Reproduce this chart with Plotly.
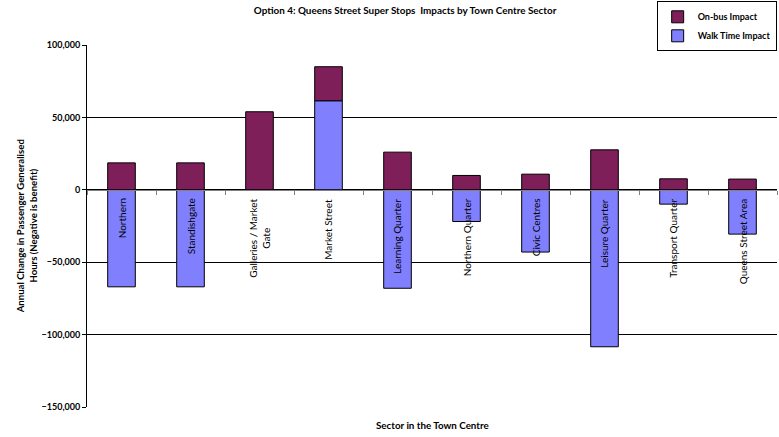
import plotly.graph_objects as go

categories = ["Northern", "Standishgate", "Galleries / Market<br>Gate", "Market Street",
              "Learning Quarter", "Northern Quarter", "Civic Centres", "Leisure Quarter",
              "Transport Quarter", "Queens Street Area"]
on_bus = [18600, 18600, 53900, 23500, 26000, 9900, 10800, 27600, 7600, 7400]
walk_time = [-67000, -67000, 0, 61500, -68000, -21900, -43000, -108400, -9900, -30600]
y_ticks = [100000, 50000, 0, -50000, -100000, -150000]

FONT = "Lato, 'Open Sans', sans-serif"
ON_BUS_COLOR = "#7F1F5A"
WALK_COLOR = "#8080FF"

fig = go.Figure()
fig.add_trace(go.Bar(x=categories, y=walk_time, name="<b>Walk Time Impact</b>",
                     marker=dict(color=WALK_COLOR, line=dict(color="#000000", width=1)),
                     width=0.4, legendrank=2))
fig.add_trace(go.Bar(x=categories, y=on_bus, name="<b>On-bus Impact</b>",
                     marker=dict(color=ON_BUS_COLOR, line=dict(color="#000000", width=1)),
                     width=0.4, legendrank=1))

for c in categories:
    fig.add_annotation(x=c, y=0, xref="x", yref="y", text=c, showarrow=False,
                       textangle=-90, xanchor="center", yanchor="top", yshift=-7,
                       font=dict(family=FONT, size=10, color="#000000"))

fig.update_layout(
    width=779, height=437,
    margin=dict(l=87, r=2, t=45, b=30, autoexpand=False),
    paper_bgcolor="white", plot_bgcolor="white",
    barmode="relative",
    font=dict(family=FONT, size=9, color="#000000"),
    title=dict(text="<b>Option 4: Queens Street Super Stops  Impacts by Town Centre Sector</b>",
               x=0.52, xanchor="center", y=0.977, yanchor="middle",
               font=dict(family=FONT, size=9.9, color="#000000")),
    legend=dict(xref="container", yref="container", x=0.997, xanchor="right",
                y=0.997, yanchor="top",
                bordercolor="#000000", borderwidth=1, bgcolor="white",
                font=dict(family=FONT, size=9, color="#000000"),
                itemwidth=30, tracegroupgap=0),
    xaxis=dict(type="category", range=[-0.5, 9.5], anchor="free", position=0.6,
               showticklabels=False, tickson="boundaries", ticks="outside",
               ticklen=4, tickcolor="#808080", showline=True, linecolor="#808080",
               linewidth=1, showgrid=False, zeroline=False, title=None),
    xaxis2=dict(overlaying="x", anchor="y", side="bottom", range=[0, 1],
                showline=True, linecolor="#000000", linewidth=1,
                showticklabels=False, ticks="", showgrid=False, zeroline=False),
    yaxis=dict(range=[-150000, 100000], tickvals=y_ticks, tickformat=",d",
               ticks="outside", ticklen=4, tickcolor="#000000",
               showline=True, linecolor="#000000", linewidth=1,
               showgrid=True, gridcolor="#000000", gridwidth=1, zeroline=False,
               tickfont=dict(family=FONT, size=9, color="#000000", weight="bold")),
)

fig.add_annotation(text="<b>Sector in the Town Centre</b>", xref="paper", yref="paper",
                   x=0.5, y=-0.05, xanchor="center", yanchor="middle", showarrow=False,
                   font=dict(family=FONT, size=9.8, color="#000000"))
fig.add_annotation(text="<b>Annual Change in Passenger Generalised<br>Hours (Negative is benefit)</b>",
                   xref="paper", yref="paper", x=-0.088, y=0.5, xanchor="center",
                   yanchor="middle", textangle=-90, showarrow=False,
                   font=dict(family=FONT, size=9.6, color="#000000"))

fig.write_html("out.html", config={"displayModeBar": False},
               post_script="document.body.style.margin='0';")
